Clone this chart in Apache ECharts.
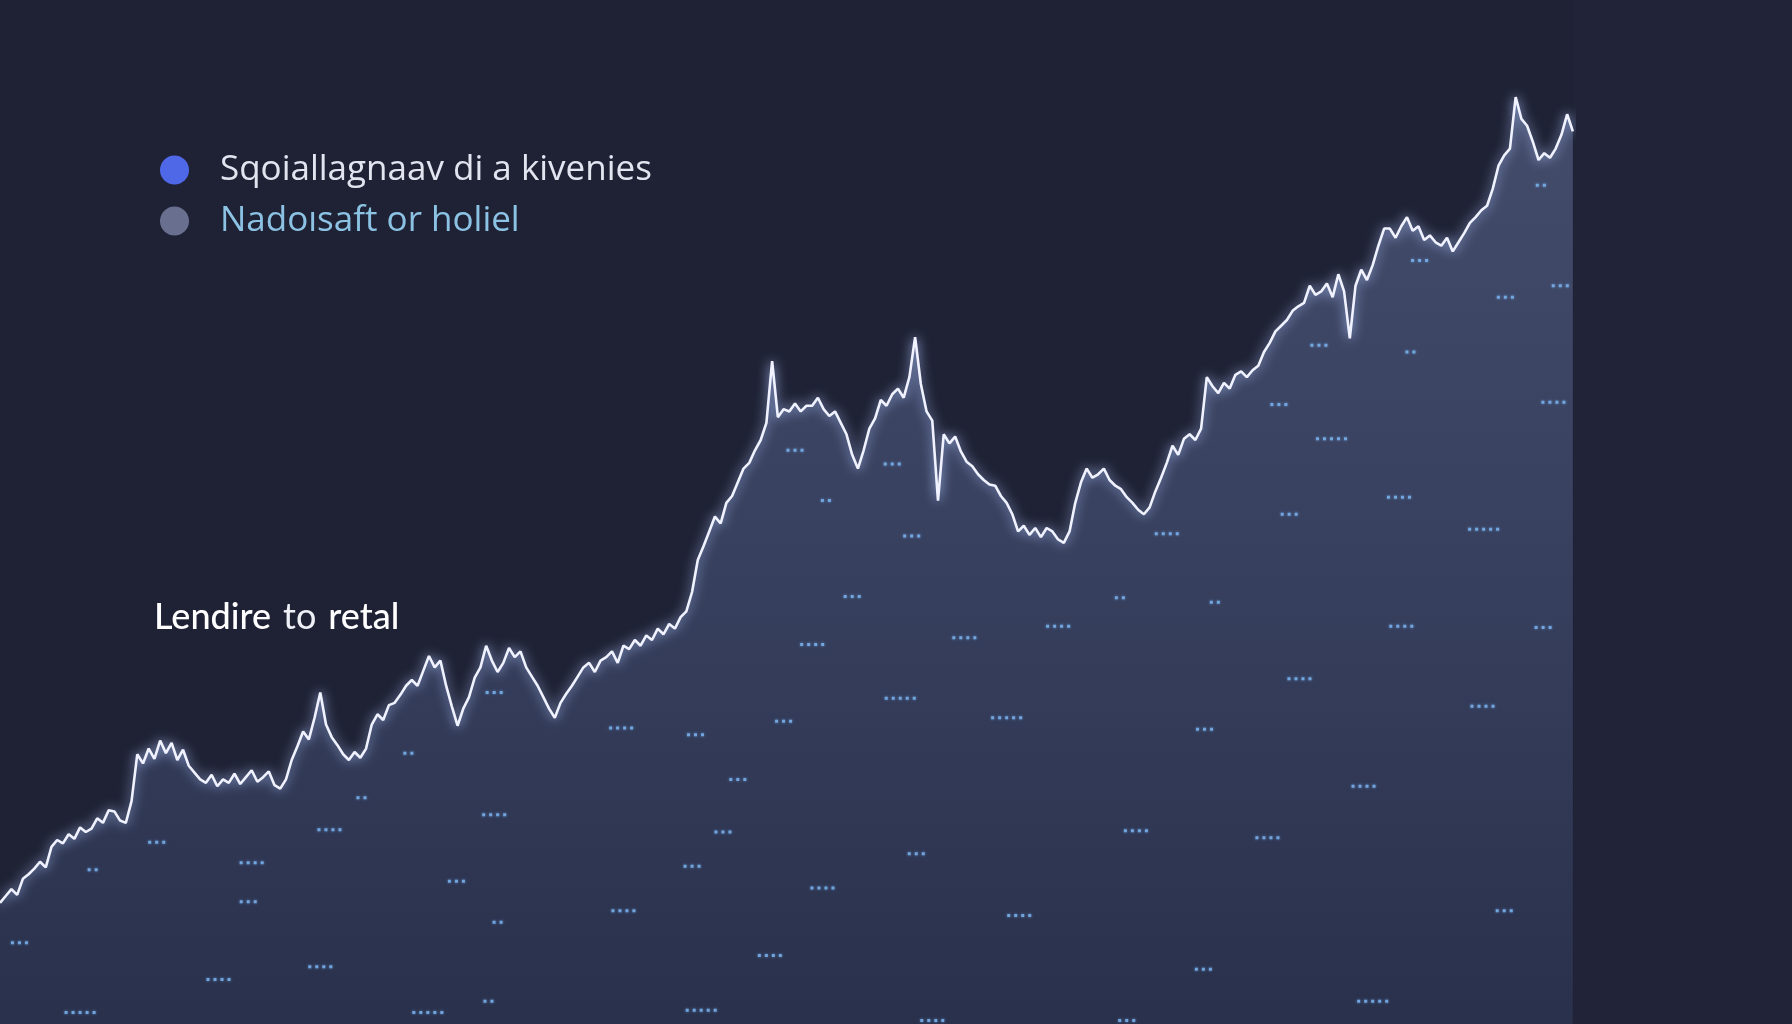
<!DOCTYPE html>
<html><head><meta charset="utf-8">
<script src="https://cdn.jsdelivr.net/npm/echarts@6/dist/echarts.min.js"></script>
<style>html,body{margin:0;padding:0;background:#1f2235;}#c{width:1792px;height:1024px;}</style>
</head><body><div id="c"></div>
<script>
// line series: x positions and values
const xs = [];
for (let i = 0; i <= 1375; i += 5) xs.push(i);
const values = [106,112,118,113,127,131,136,142,137,155,161,158,166,162,172,168,171,180,176,187,186,178,176,195,236,228,241,232,248,237,246,231,240,226,220,214,211,218,208,214,211,219,210,216,222,212,216,221,209,206,214,231,243,256,249,268,290,262,251,244,236,231,238,233,241,262,271,266,279,281,288,296,301,296,309,322,312,318,296,278,261,276,286,303,312,331,318,308,316,329,321,326,312,304,296,286,276,268,281,289,296,304,312,316,308,318,321,326,316,331,328,336,331,340,336,346,341,350,346,356,361,378,406,418,431,444,438,456,462,474,486,491,502,511,526,580,531,538,536,543,536,541,541,548,538,532,536,526,516,498,486,502,521,530,546,541,551,556,548,566,601,560,536,528,458,516,508,514,501,492,488,481,476,472,471,462,456,446,431,436,428,434,426,434,431,424,421,431,456,474,486,478,481,486,476,471,468,461,456,450,446,452,466,478,491,506,498,512,516,511,521,566,558,552,561,556,568,571,566,572,576,588,596,606,611,616,624,628,631,646,638,641,648,636,656,641,600,646,660,651,664,681,696,696,688,698,706,694,698,686,690,684,681,688,676,684,692,701,706,712,716,731,751,760,766,811,792,786,772,756,762,758,766,778,796,781];
// decorative dot groups: x, height, count
const dotX = [695,780,722,797,745,710,843,787,685,880,543,608,645,632,605,432,357,316,432,288,137,81,220,217,399,435,545,719,801,891,17,191,280,70,374,427,613,673,815,985,1052,1200,1315,993,1108,1192,1053,1136,1296,1225,1349,1297,1223,1164,1127,1020,925,979,1062,1118,1153,1233,1316,1364,1358,1347,1241];
const dotH = [502,490,458,427,374,332,338,285,265,268,259,253,214,168,138,290,237,198,183,170,159,135,141,107,125,89,99,119,149,95,71,39,50,10,10,20,12,60,3,3,48,20,99,169,163,208,258,302,278,348,347,433,461,512,446,429,348,373,369,542,594,588,636,646,544,734,668];
const dotN = [3,3,2,3,3,4,4,5,3,5,4,3,3,3,3,3,2,2,4,4,3,2,4,3,3,2,4,4,3,4,3,4,4,5,5,2,5,4,4,3,3,5,3,4,4,4,3,4,4,4,3,5,4,5,3,4,4,2,2,3,3,2,3,3,4,2,3];
const legendNames = ['Sqoiallagnaav di a kivenies', 'Nadoısaft or holiel'];
const annotation = ['Lendire', 'to', 'retal'];

const lineData = xs.map((x, i) => [x, values[i]]);
const dotData = dotX.map((x, i) => [x, dotH[i], dotN[i]]);
function dotPath(n){let p='';for(let k=0;k<n;k++){p+='M'+(k*7)+',0h3v3h-3z ';}return 'path://'+p;}

const chart = echarts.init(document.getElementById('c'));
chart.setOption({
  backgroundColor: '#1f2235',
  animation: false,
  grid: {left: 0, right: 218, top: 0, bottom: 0},
  xAxis: {type: 'value', min: 0, max: 1376, show: false},
  yAxis: {type: 'value', min: 0, max: 896, show: false},
  legend: {
    orient: 'vertical', left: 160, top: 152, padding: 0, itemGap: 15,
    icon: 'circle', itemWidth: 29, itemHeight: 29,
    textStyle: {fontFamily: 'Open Sans', fontSize: 35, padding: [0,0,0,26], lineHeight: 36},
    data: [
      {name: legendNames[0], itemStyle: {color: '#4f68e8'}, textStyle: {color: '#e2e5f0'}},
      {name: legendNames[1], itemStyle: {color: '#7a83a6'}, textStyle: {color: '#8cc3e4'}}
    ]
  },
  graphic: [
    {type: 'rect', left: 1574, top: 0, shape: {width: 218, height: 1024}, style: {fill: '#212438'}, z: -1},
    {type: 'text', left: 154, top: 599, z: 10, style: {
      text: '{a|' + annotation[0] + '}{s| }{b|' + annotation[1] + '}{s| }{a|' + annotation[2] + '}',
      rich: {
        a: {fontFamily: 'Lato', fontSize: 36, fontWeight: 500, fill: '#ffffff'},
        b: {fontFamily: 'Lato', fontSize: 36, fontWeight: 400, fill: '#eef0f6'},
        s: {fontFamily: 'Lato', fontSize: 36, width: 12}
      }
    }}
  ],
  series: [
    {
      name: legendNames[0], type: 'line', data: lineData, symbol: 'none', z: 3,
      lineStyle: {color: '#f0f3ff', width: 2.6, shadowColor: 'rgba(175,198,255,1)', shadowBlur: 12},
      areaStyle: {color: new echarts.graphic.LinearGradient(0,0,0,1,[
        {offset: 0, color: '#535e82'}, {offset: 0.5, color: '#424d70'}, {offset: 1, color: '#2e3755'}
      ])}
    },
    {
      name: legendNames[1], type: 'scatter', data: dotData, z: 4,
      symbol: (v) => dotPath(v[2]),
      symbolSize: (v) => [7 * v[2] - 4, 3],
      itemStyle: {color: '#7db8f2', shadowColor: 'rgba(120,180,255,0.8)', shadowBlur: 3}
    }
  ]
});
</script>
</body></html>
